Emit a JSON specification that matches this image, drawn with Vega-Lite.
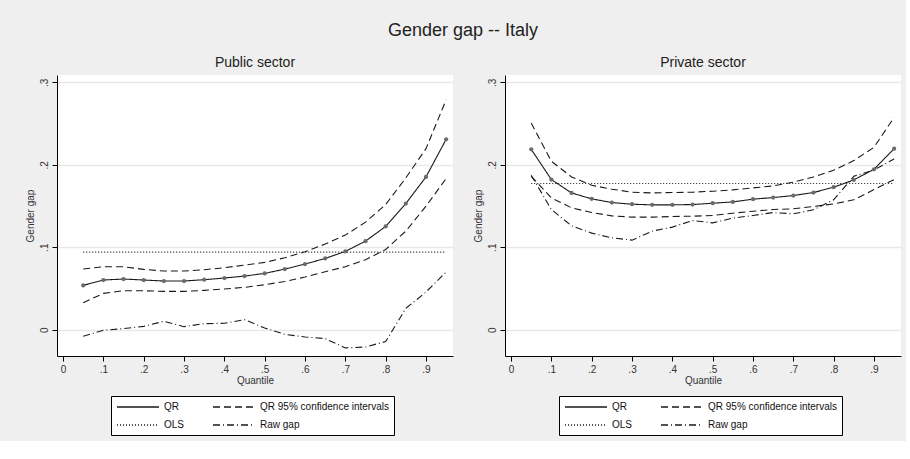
{
  "$schema": "https://vega.github.io/schema/vega-lite/v6.json",
  "background": "#efefef",
  "padding": {"left": 25, "top": 22, "right": 5, "bottom": 5},
  "title": {"text": "Gender gap -- Italy", "fontSize": 18, "fontWeight": "normal", "font": "Liberation Sans", "color": "#222222", "anchor": "middle", "offset": 16},
  "config": {
    "view": {"stroke": null, "fill": "white"},
    "font": "Liberation Sans",
    "axis": {"labelFont": "Liberation Sans", "titleFont": "Liberation Sans", "labelFontSize": 10, "titleFontSize": 10, "titleFontWeight": "normal", "labelColor": "#333333", "titleColor": "#333333", "domainColor": "#000000", "tickColor": "#000000", "tickSize": 5},
    "title": {"fontSize": 14, "fontWeight": "normal", "font": "Liberation Sans", "color": "#222222", "offset": 5},
    "legend": {"labelFont": "Liberation Sans", "labelFontSize": 10, "labelColor": "#111111"}
  },
  "datasets": {
    "pub": [
      {"q":0.05,"k":"QR","l":"m","v":0.0537},{"q":0.10,"k":"QR","l":"m","v":0.0602},{"q":0.15,"k":"QR","l":"m","v":0.0614},{"q":0.20,"k":"QR","l":"m","v":0.0602},{"q":0.25,"k":"QR","l":"m","v":0.0590},{"q":0.30,"k":"QR","l":"m","v":0.0590},{"q":0.35,"k":"QR","l":"m","v":0.0606},{"q":0.40,"k":"QR","l":"m","v":0.0626},{"q":0.45,"k":"QR","l":"m","v":0.0650},{"q":0.50,"k":"QR","l":"m","v":0.0682},{"q":0.55,"k":"QR","l":"m","v":0.0735},{"q":0.60,"k":"QR","l":"m","v":0.0795},{"q":0.65,"k":"QR","l":"m","v":0.0864},{"q":0.70,"k":"QR","l":"m","v":0.0949},{"q":0.75,"k":"QR","l":"m","v":0.1074},{"q":0.80,"k":"QR","l":"m","v":0.1252},{"q":0.85,"k":"QR","l":"m","v":0.1530},{"q":0.90,"k":"QR","l":"m","v":0.1853},{"q":0.95,"k":"QR","l":"m","v":0.2310},
      {"q":0.05,"k":"QR 95% confidence intervals","l":"hi","v":0.0735},{"q":0.10,"k":"QR 95% confidence intervals","l":"hi","v":0.0763},{"q":0.15,"k":"QR 95% confidence intervals","l":"hi","v":0.0763},{"q":0.20,"k":"QR 95% confidence intervals","l":"hi","v":0.0731},{"q":0.25,"k":"QR 95% confidence intervals","l":"hi","v":0.0711},{"q":0.30,"k":"QR 95% confidence intervals","l":"hi","v":0.0711},{"q":0.35,"k":"QR 95% confidence intervals","l":"hi","v":0.0727},{"q":0.40,"k":"QR 95% confidence intervals","l":"hi","v":0.0751},{"q":0.45,"k":"QR 95% confidence intervals","l":"hi","v":0.0783},{"q":0.50,"k":"QR 95% confidence intervals","l":"hi","v":0.0816},{"q":0.55,"k":"QR 95% confidence intervals","l":"hi","v":0.0872},{"q":0.60,"k":"QR 95% confidence intervals","l":"hi","v":0.0945},{"q":0.65,"k":"QR 95% confidence intervals","l":"hi","v":0.1038},{"q":0.70,"k":"QR 95% confidence intervals","l":"hi","v":0.1147},{"q":0.75,"k":"QR 95% confidence intervals","l":"hi","v":0.1304},{"q":0.80,"k":"QR 95% confidence intervals","l":"hi","v":0.1518},{"q":0.85,"k":"QR 95% confidence intervals","l":"hi","v":0.1841},{"q":0.90,"k":"QR 95% confidence intervals","l":"hi","v":0.2196},{"q":0.95,"k":"QR 95% confidence intervals","l":"hi","v":0.2790},
      {"q":0.05,"k":"QR 95% confidence intervals","l":"lo","v":0.0327},{"q":0.10,"k":"QR 95% confidence intervals","l":"lo","v":0.0440},{"q":0.15,"k":"QR 95% confidence intervals","l":"lo","v":0.0472},{"q":0.20,"k":"QR 95% confidence intervals","l":"lo","v":0.0472},{"q":0.25,"k":"QR 95% confidence intervals","l":"lo","v":0.0464},{"q":0.30,"k":"QR 95% confidence intervals","l":"lo","v":0.0464},{"q":0.35,"k":"QR 95% confidence intervals","l":"lo","v":0.0476},{"q":0.40,"k":"QR 95% confidence intervals","l":"lo","v":0.0493},{"q":0.45,"k":"QR 95% confidence intervals","l":"lo","v":0.0513},{"q":0.50,"k":"QR 95% confidence intervals","l":"lo","v":0.0545},{"q":0.55,"k":"QR 95% confidence intervals","l":"lo","v":0.0585},{"q":0.60,"k":"QR 95% confidence intervals","l":"lo","v":0.0638},{"q":0.65,"k":"QR 95% confidence intervals","l":"lo","v":0.0703},{"q":0.70,"k":"QR 95% confidence intervals","l":"lo","v":0.0763},{"q":0.75,"k":"QR 95% confidence intervals","l":"lo","v":0.0848},{"q":0.80,"k":"QR 95% confidence intervals","l":"lo","v":0.0973},{"q":0.85,"k":"QR 95% confidence intervals","l":"lo","v":0.1195},{"q":0.90,"k":"QR 95% confidence intervals","l":"lo","v":0.1498},{"q":0.95,"k":"QR 95% confidence intervals","l":"lo","v":0.1833},
      {"q":0.05,"k":"OLS","l":"o","v":0.0941},{"q":0.95,"k":"OLS","l":"o","v":0.0941},
      {"q":0.05,"k":"Raw gap","l":"r","v":-0.0081},{"q":0.10,"k":"Raw gap","l":"r","v":-0.0008},{"q":0.15,"k":"Raw gap","l":"r","v":0.0012},{"q":0.20,"k":"Raw gap","l":"r","v":0.0040},{"q":0.25,"k":"Raw gap","l":"r","v":0.0101},{"q":0.30,"k":"Raw gap","l":"r","v":0.0036},{"q":0.35,"k":"Raw gap","l":"r","v":0.0073},{"q":0.40,"k":"Raw gap","l":"r","v":0.0077},{"q":0.45,"k":"Raw gap","l":"r","v":0.0121},{"q":0.50,"k":"Raw gap","l":"r","v":0.0020},{"q":0.55,"k":"Raw gap","l":"r","v":-0.0057},{"q":0.60,"k":"Raw gap","l":"r","v":-0.0089},{"q":0.65,"k":"Raw gap","l":"r","v":-0.0109},{"q":0.70,"k":"Raw gap","l":"r","v":-0.0222},{"q":0.75,"k":"Raw gap","l":"r","v":-0.0210},{"q":0.80,"k":"Raw gap","l":"r","v":-0.0145},{"q":0.85,"k":"Raw gap","l":"r","v":0.0258},{"q":0.90,"k":"Raw gap","l":"r","v":0.0456},{"q":0.95,"k":"Raw gap","l":"r","v":0.0699}
    ],
    "priv": [
      {"q":0.05,"k":"QR","l":"m","v":0.2188},{"q":0.10,"k":"QR","l":"m","v":0.1821},{"q":0.15,"k":"QR","l":"m","v":0.1659},{"q":0.20,"k":"QR","l":"m","v":0.1587},{"q":0.25,"k":"QR","l":"m","v":0.1542},{"q":0.30,"k":"QR","l":"m","v":0.1522},{"q":0.35,"k":"QR","l":"m","v":0.1514},{"q":0.40,"k":"QR","l":"m","v":0.1514},{"q":0.45,"k":"QR","l":"m","v":0.1518},{"q":0.50,"k":"QR","l":"m","v":0.1534},{"q":0.55,"k":"QR","l":"m","v":0.1550},{"q":0.60,"k":"QR","l":"m","v":0.1583},{"q":0.65,"k":"QR","l":"m","v":0.1603},{"q":0.70,"k":"QR","l":"m","v":0.1627},{"q":0.75,"k":"QR","l":"m","v":0.1664},{"q":0.80,"k":"QR","l":"m","v":0.1728},{"q":0.85,"k":"QR","l":"m","v":0.1817},{"q":0.90,"k":"QR","l":"m","v":0.1946},{"q":0.95,"k":"QR","l":"m","v":0.2196},
      {"q":0.05,"k":"QR 95% confidence intervals","l":"hi","v":0.2507},{"q":0.10,"k":"QR 95% confidence intervals","l":"hi","v":0.2043},{"q":0.15,"k":"QR 95% confidence intervals","l":"hi","v":0.1853},{"q":0.20,"k":"QR 95% confidence intervals","l":"hi","v":0.1752},{"q":0.25,"k":"QR 95% confidence intervals","l":"hi","v":0.1704},{"q":0.30,"k":"QR 95% confidence intervals","l":"hi","v":0.1668},{"q":0.35,"k":"QR 95% confidence intervals","l":"hi","v":0.1659},{"q":0.40,"k":"QR 95% confidence intervals","l":"hi","v":0.1664},{"q":0.45,"k":"QR 95% confidence intervals","l":"hi","v":0.1668},{"q":0.50,"k":"QR 95% confidence intervals","l":"hi","v":0.1680},{"q":0.55,"k":"QR 95% confidence intervals","l":"hi","v":0.1696},{"q":0.60,"k":"QR 95% confidence intervals","l":"hi","v":0.1720},{"q":0.65,"k":"QR 95% confidence intervals","l":"hi","v":0.1744},{"q":0.70,"k":"QR 95% confidence intervals","l":"hi","v":0.1789},{"q":0.75,"k":"QR 95% confidence intervals","l":"hi","v":0.1853},{"q":0.80,"k":"QR 95% confidence intervals","l":"hi","v":0.1934},{"q":0.85,"k":"QR 95% confidence intervals","l":"hi","v":0.2051},{"q":0.90,"k":"QR 95% confidence intervals","l":"hi","v":0.2213},{"q":0.95,"k":"QR 95% confidence intervals","l":"hi","v":0.2576},
      {"q":0.05,"k":"QR 95% confidence intervals","l":"lo","v":0.1861},{"q":0.10,"k":"QR 95% confidence intervals","l":"lo","v":0.1599},{"q":0.15,"k":"QR 95% confidence intervals","l":"lo","v":0.1478},{"q":0.20,"k":"QR 95% confidence intervals","l":"lo","v":0.1421},{"q":0.25,"k":"QR 95% confidence intervals","l":"lo","v":0.1381},{"q":0.30,"k":"QR 95% confidence intervals","l":"lo","v":0.1365},{"q":0.35,"k":"QR 95% confidence intervals","l":"lo","v":0.1365},{"q":0.40,"k":"QR 95% confidence intervals","l":"lo","v":0.1373},{"q":0.45,"k":"QR 95% confidence intervals","l":"lo","v":0.1377},{"q":0.50,"k":"QR 95% confidence intervals","l":"lo","v":0.1385},{"q":0.55,"k":"QR 95% confidence intervals","l":"lo","v":0.1413},{"q":0.60,"k":"QR 95% confidence intervals","l":"lo","v":0.1437},{"q":0.65,"k":"QR 95% confidence intervals","l":"lo","v":0.1458},{"q":0.70,"k":"QR 95% confidence intervals","l":"lo","v":0.1466},{"q":0.75,"k":"QR 95% confidence intervals","l":"lo","v":0.1494},{"q":0.80,"k":"QR 95% confidence intervals","l":"lo","v":0.1526},{"q":0.85,"k":"QR 95% confidence intervals","l":"lo","v":0.1575},{"q":0.90,"k":"QR 95% confidence intervals","l":"lo","v":0.1700},{"q":0.95,"k":"QR 95% confidence intervals","l":"lo","v":0.1821},
      {"q":0.05,"k":"OLS","l":"o","v":0.1773},{"q":0.95,"k":"OLS","l":"o","v":0.1773},
      {"q":0.05,"k":"Raw gap","l":"r","v":0.1873},{"q":0.10,"k":"Raw gap","l":"r","v":0.1458},{"q":0.15,"k":"Raw gap","l":"r","v":0.1260},{"q":0.20,"k":"Raw gap","l":"r","v":0.1171},{"q":0.25,"k":"Raw gap","l":"r","v":0.1114},{"q":0.30,"k":"Raw gap","l":"r","v":0.1086},{"q":0.35,"k":"Raw gap","l":"r","v":0.1195},{"q":0.40,"k":"Raw gap","l":"r","v":0.1244},{"q":0.45,"k":"Raw gap","l":"r","v":0.1324},{"q":0.50,"k":"Raw gap","l":"r","v":0.1296},{"q":0.55,"k":"Raw gap","l":"r","v":0.1353},{"q":0.60,"k":"Raw gap","l":"r","v":0.1385},{"q":0.65,"k":"Raw gap","l":"r","v":0.1421},{"q":0.70,"k":"Raw gap","l":"r","v":0.1405},{"q":0.75,"k":"Raw gap","l":"r","v":0.1454},{"q":0.80,"k":"Raw gap","l":"r","v":0.1575},{"q":0.85,"k":"Raw gap","l":"r","v":0.1861},{"q":0.90,"k":"Raw gap","l":"r","v":0.1938},{"q":0.95,"k":"Raw gap","l":"r","v":0.2071}
    ]
  },
  "spacing": 20,
  "resolve": {"legend": {"strokeDash": "independent"}},
  "hconcat": [
    {
      "title": "Public sector",
      "width": 396, "height": 281,
      "data": {"name": "pub"},
      "encoding": {
        "x": {"field": "q", "type": "quantitative", "title": "Quantile",
              "scale": {"domain": [-0.015, 0.967], "nice": false, "zero": false},
              "axis": {"values": [0,0.1,0.2,0.3,0.4,0.5,0.6,0.7,0.8,0.9], "grid": false, "labelPadding": 3, "titlePadding": 1, "labelFlush": false,
                       "labelExpr": "replace(format(datum.value, '.1~f'), '0.', '.')"}},
        "y": {"field": "v", "type": "quantitative", "title": "Gender gap",
              "scale": {"domain": [-0.032, 0.309], "nice": false, "zero": false},
              "axis": {"values": [0,0.1,0.2,0.3], "grid": true, "gridColor": "#e8e8e8", "gridWidth": 1.5, "labelAngle": -90, "labelAlign": "center", "labelBaseline": "bottom", "labelPadding": 3, "titlePadding": 4,
                       "labelExpr": "replace(format(datum.value, '.1~f'), '0.', '.')"}}
      },
      "layer": [
        {
          "mark": {"type": "line", "color": "#1a1a1a", "strokeWidth": 1.1},
          "encoding": {
            "detail": {"field": "l"},
            "strokeDash": {"field": "k", "type": "nominal",
              "scale": {"domain": ["QR", "QR 95% confidence intervals", "OLS", "Raw gap"], "range": [[1,0],[7,4],[1,2],[7,3,1,3]]},
              "legend": {"title": null, "orient": "none", "direction": "horizontal", "legendX": 54, "legendY": 321, "columns": 2, "columnPadding": 25, "rowPadding": 7,
                         "strokeColor": "#000000", "fillColor": "#ffffff", "padding": 5, "symbolSize": 100, "symbolOffset": 16, "labelOffset": 20,
                         "symbolType": "M-4.2,0L4.2,0",
                         "encode": {"symbols": {"update": {
                           "shape": {"signal": "datum.value === 'QR' ? 'M-4.2,0L4.2,0M-0.4,0A0.4,0.4,0,1,0,0.4,0A0.4,0.4,0,1,0,-0.4,0Z' : 'M-4.2,0L4.2,0'"},
                           "fill": {"signal": "datum.value === 'QR' ? '#6b6b6b' : 'transparent'"},
                           "stroke": {"value": "#1a1a1a"},
                           "strokeWidth": {"value": 1},
                           "opacity": {"value": 1},
                           "strokeDash": {"signal": "datum.value === 'QR 95% confidence intervals' ? [6,4] : datum.value === 'OLS' ? [1,2] : datum.value === 'Raw gap' ? [6,3,1,3] : [1,0]"}}}}}
            }
          }
        },
        {
          "transform": [{"filter": "datum.k === 'QR'"}],
          "mark": {"type": "circle", "color": "#6b6b6b", "size": 18, "opacity": 1}
        }
      ]
    },
    {
      "title": "Private sector",
      "width": 396, "height": 281,
      "data": {"name": "priv"},
      "encoding": {
        "x": {"field": "q", "type": "quantitative", "title": "Quantile",
              "scale": {"domain": [-0.015, 0.967], "nice": false, "zero": false},
              "axis": {"values": [0,0.1,0.2,0.3,0.4,0.5,0.6,0.7,0.8,0.9], "grid": false, "labelPadding": 3, "titlePadding": 1, "labelFlush": false,
                       "labelExpr": "replace(format(datum.value, '.1~f'), '0.', '.')"}},
        "y": {"field": "v", "type": "quantitative", "title": "Gender gap",
              "scale": {"domain": [-0.032, 0.309], "nice": false, "zero": false},
              "axis": {"values": [0,0.1,0.2,0.3], "grid": true, "gridColor": "#e8e8e8", "gridWidth": 1.5, "labelAngle": -90, "labelAlign": "center", "labelBaseline": "bottom", "labelPadding": 3, "titlePadding": 4,
                       "labelExpr": "replace(format(datum.value, '.1~f'), '0.', '.')"}}
      },
      "layer": [
        {
          "mark": {"type": "line", "color": "#1a1a1a", "strokeWidth": 1.1},
          "encoding": {
            "detail": {"field": "l"},
            "strokeDash": {"field": "k", "type": "nominal",
              "scale": {"domain": ["QR", "QR 95% confidence intervals", "OLS", "Raw gap"], "range": [[1,0],[7,4],[1,2],[7,3,1,3]]},
              "legend": {"title": null, "orient": "none", "direction": "horizontal", "legendX": 54, "legendY": 321, "columns": 2, "columnPadding": 25, "rowPadding": 7,
                         "strokeColor": "#000000", "fillColor": "#ffffff", "padding": 5, "symbolSize": 100, "symbolOffset": 16, "labelOffset": 20,
                         "symbolType": "M-4.2,0L4.2,0",
                         "encode": {"symbols": {"update": {
                           "shape": {"signal": "datum.value === 'QR' ? 'M-4.2,0L4.2,0M-0.4,0A0.4,0.4,0,1,0,0.4,0A0.4,0.4,0,1,0,-0.4,0Z' : 'M-4.2,0L4.2,0'"},
                           "fill": {"signal": "datum.value === 'QR' ? '#6b6b6b' : 'transparent'"},
                           "stroke": {"value": "#1a1a1a"},
                           "strokeWidth": {"value": 1},
                           "opacity": {"value": 1},
                           "strokeDash": {"signal": "datum.value === 'QR 95% confidence intervals' ? [6,4] : datum.value === 'OLS' ? [1,2] : datum.value === 'Raw gap' ? [6,3,1,3] : [1,0]"}}}}}
            }
          }
        },
        {
          "transform": [{"filter": "datum.k === 'QR'"}],
          "mark": {"type": "circle", "color": "#6b6b6b", "size": 18, "opacity": 1}
        }
      ]
    }
  ]
}
